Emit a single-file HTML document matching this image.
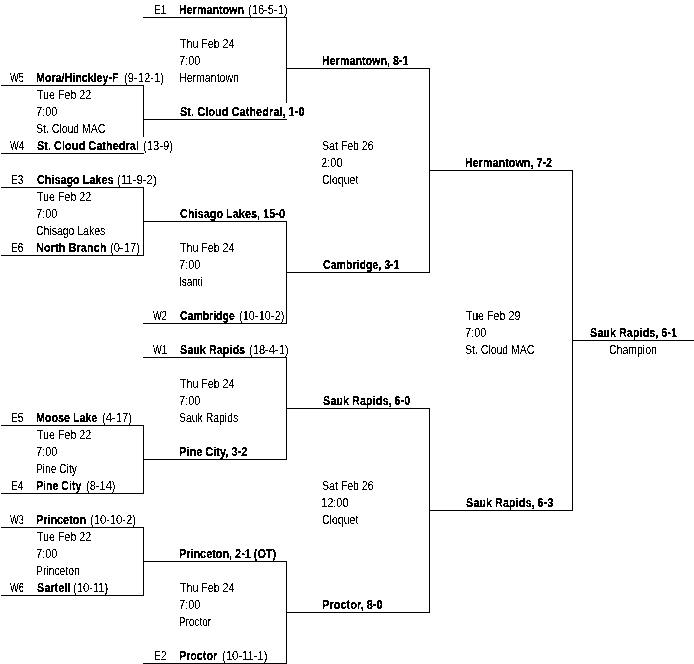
<!DOCTYPE html>
<html><head><meta charset="utf-8"><title>Bracket</title>
<style>
html,body{margin:0;padding:0;background:#fff;}
body{width:694px;height:664px;position:relative;overflow:hidden;font-family:"Liberation Sans",sans-serif;font-size:12px;line-height:16px;color:#000;}
#txt{position:absolute;left:0;top:0;width:694px;height:664px;filter:url(#th);}
#txtb{position:absolute;left:0;top:0;width:694px;height:664px;filter:url(#thb);}
.t{position:absolute;white-space:nowrap;transform-origin:0 0;display:block;height:16px;}
b{font-weight:bold;-webkit-text-stroke:0.25px #000;}
.l{position:absolute;background:#000;display:block;}
</style></head><body>
<svg width="0" height="0" style="position:absolute"><defs><filter id="th" x="0" y="0" width="100%" height="100%" color-interpolation-filters="sRGB"><feComponentTransfer><feFuncA type="discrete" tableValues="0 0 0 0 0 0 0 0 0 1 1 1 1 1 1 1 1 1 1 1"/></feComponentTransfer></filter><filter id="thb" x="0" y="0" width="100%" height="100%" color-interpolation-filters="sRGB"><feComponentTransfer><feFuncA type="discrete" tableValues="0 1"/></feComponentTransfer></filter></defs></svg>
<div id="txt">
<span class="t" style="left:10.30px;top:70px;transform:scaleX(0.7722)">W5</span>
<span class="t" style="left:124.07px;top:70px;transform:scaleX(0.9341)">(9-12-1)</span>
<span class="t" style="left:10.30px;top:138px;transform:scaleX(0.7722)">W4</span>
<span class="t" style="left:142.96px;top:138px;transform:scaleX(0.9367)">(13-9)</span>
<span class="t" style="left:11.15px;top:172px;transform:scaleX(0.8462)">E3</span>
<span class="t" style="left:117.05px;top:172px;transform:scaleX(0.9500)">(11-9-2)</span>
<span class="t" style="left:11.15px;top:240px;transform:scaleX(0.8462)">E6</span>
<span class="t" style="left:110.06px;top:240px;transform:scaleX(0.9367)">(0-17)</span>
<span class="t" style="left:11.15px;top:410px;transform:scaleX(0.8462)">E5</span>
<span class="t" style="left:102.16px;top:410px;transform:scaleX(0.9367)">(4-17)</span>
<span class="t" style="left:11.16px;top:478px;transform:scaleX(0.8429)">E4</span>
<span class="t" style="left:85.98px;top:478px;transform:scaleX(0.9200)">(8-14)</span>
<span class="t" style="left:10.30px;top:512px;transform:scaleX(0.7722)">W3</span>
<span class="t" style="left:89.87px;top:512px;transform:scaleX(0.9313)">(10-10-2)</span>
<span class="t" style="left:10.30px;top:580px;transform:scaleX(0.7722)">W6</span>
<span class="t" style="left:73.17px;top:580px;transform:scaleX(0.9306)">(10-11)</span>
<span class="t" style="left:154.15px;top:2px;transform:scaleX(0.8462)">E1</span>
<span class="t" style="left:248.07px;top:2px;transform:scaleX(0.9293)">(16-5-1)</span>
<span class="t" style="left:153.30px;top:308px;transform:scaleX(0.7722)">W2</span>
<span class="t" style="left:239.38px;top:308px;transform:scaleX(0.9229)">(10-10-2)</span>
<span class="t" style="left:153.30px;top:342px;transform:scaleX(0.7722)">W1</span>
<span class="t" style="left:249.37px;top:342px;transform:scaleX(0.9293)">(18-4-1)</span>
<span class="t" style="left:154.15px;top:648px;transform:scaleX(0.8462)">E2</span>
<span class="t" style="left:221.56px;top:648px;transform:scaleX(0.9383)">(10-11-1)</span>
<span class="t" style="left:609.02px;top:342px;transform:scaleX(0.8755)">Champion</span>
<span class="t" style="left:37.00px;top:87px;transform:scaleX(0.8885)">Tue Feb 22</span>
<span class="t" style="left:35.58px;top:104px;transform:scaleX(0.9200)">7:00</span>
<span class="t" style="left:36.13px;top:121px;transform:scaleX(0.8744)">St. Cloud MAC</span>
<span class="t" style="left:37.00px;top:189px;transform:scaleX(0.8885)">Tue Feb 22</span>
<span class="t" style="left:35.58px;top:206px;transform:scaleX(0.9200)">7:00</span>
<span class="t" style="left:36.13px;top:223px;transform:scaleX(0.8718)">Chisago Lakes</span>
<span class="t" style="left:37.00px;top:427px;transform:scaleX(0.8885)">Tue Feb 22</span>
<span class="t" style="left:35.58px;top:444px;transform:scaleX(0.9200)">7:00</span>
<span class="t" style="left:35.85px;top:461px;transform:scaleX(0.8511)">Pine City</span>
<span class="t" style="left:37.00px;top:529px;transform:scaleX(0.8885)">Tue Feb 22</span>
<span class="t" style="left:35.58px;top:546px;transform:scaleX(0.9200)">7:00</span>
<span class="t" style="left:36.14px;top:563px;transform:scaleX(0.8633)">Princeton</span>
<span class="t" style="left:180.00px;top:36px;transform:scaleX(0.8852)">Thu Feb 24</span>
<span class="t" style="left:178.58px;top:53px;transform:scaleX(0.9200)">7:00</span>
<span class="t" style="left:179.12px;top:70px;transform:scaleX(0.8818)">Hermantown</span>
<span class="t" style="left:180.00px;top:240px;transform:scaleX(0.8852)">Thu Feb 24</span>
<span class="t" style="left:178.58px;top:257px;transform:scaleX(0.9200)">7:00</span>
<span class="t" style="left:179.17px;top:274px;transform:scaleX(0.8296)">Isanti</span>
<span class="t" style="left:180.00px;top:376px;transform:scaleX(0.8852)">Thu Feb 24</span>
<span class="t" style="left:178.58px;top:393px;transform:scaleX(0.9200)">7:00</span>
<span class="t" style="left:179.13px;top:410px;transform:scaleX(0.8701)">Sauk Rapids</span>
<span class="t" style="left:180.00px;top:580px;transform:scaleX(0.8852)">Thu Feb 24</span>
<span class="t" style="left:178.58px;top:597px;transform:scaleX(0.9200)">7:00</span>
<span class="t" style="left:179.17px;top:614px;transform:scaleX(0.8263)">Proctor</span>
<span class="t" style="left:322.12px;top:138px;transform:scaleX(0.8772)">Sat Feb 26</span>
<span class="t" style="left:321.07px;top:155px;transform:scaleX(0.9250)">2:00</span>
<span class="t" style="left:322.12px;top:172px;transform:scaleX(0.8800)">Cloquet</span>
<span class="t" style="left:322.12px;top:478px;transform:scaleX(0.8772)">Sat Feb 26</span>
<span class="t" style="left:321.28px;top:495px;transform:scaleX(0.9200)">12:00</span>
<span class="t" style="left:322.12px;top:512px;transform:scaleX(0.8800)">Cloquet</span>
<span class="t" style="left:466.00px;top:308px;transform:scaleX(0.8934)">Tue Feb 29</span>
<span class="t" style="left:464.58px;top:325px;transform:scaleX(0.9200)">7:00</span>
<span class="t" style="left:465.13px;top:342px;transform:scaleX(0.8744)">St. Cloud MAC</span>
</div>
<div id="txtb">
<span class="t" style="left:36.11px;top:70px;transform:scaleX(0.8913)"><b>Mora/Hinckley-F</b></span>
<span class="t" style="left:37.00px;top:138px;transform:scaleX(0.9162)"><b>St. Cloud Cathedral</b></span>
<span class="t" style="left:37.00px;top:172px;transform:scaleX(0.9024)"><b>Chisago Lakes</b></span>
<span class="t" style="left:36.08px;top:240px;transform:scaleX(0.9213)"><b>North Branch</b></span>
<span class="t" style="left:36.11px;top:410px;transform:scaleX(0.8926)"><b>Moose Lake</b></span>
<span class="t" style="left:36.12px;top:478px;transform:scaleX(0.8843)"><b>Pine City</b></span>
<span class="t" style="left:36.10px;top:512px;transform:scaleX(0.9037)"><b>Princeton</b></span>
<span class="t" style="left:37.00px;top:580px;transform:scaleX(0.9056)"><b>Sartell</b></span>
<span class="t" style="left:179.11px;top:2px;transform:scaleX(0.8944)"><b>Hermantown</b></span>
<span class="t" style="left:180.00px;top:308px;transform:scaleX(0.8730)"><b>Cambridge</b></span>
<span class="t" style="left:180.00px;top:342px;transform:scaleX(0.9028)"><b>Sauk Rapids</b></span>
<span class="t" style="left:179.11px;top:648px;transform:scaleX(0.8929)"><b>Proctor</b></span>
<span class="t" style="left:180.00px;top:104px;transform:scaleX(0.9200)"><b>St. Cloud Cathedral, 1-0</b></span>
<span class="t" style="left:180.00px;top:206px;transform:scaleX(0.9096)"><b>Chisago Lakes, 15-0</b></span>
<span class="t" style="left:179.08px;top:444px;transform:scaleX(0.9178)"><b>Pine City, 3-2</b></span>
<span class="t" style="left:179.10px;top:546px;transform:scaleX(0.9047)"><b>Princeton, 2-1 (OT)</b></span>
<span class="t" style="left:322.11px;top:53px;transform:scaleX(0.8938)"><b>Hermantown, 8-1</b></span>
<span class="t" style="left:323.00px;top:257px;transform:scaleX(0.8816)"><b>Cambridge, 3-1</b></span>
<span class="t" style="left:323.00px;top:393px;transform:scaleX(0.9094)"><b>Sauk Rapids, 6-0</b></span>
<span class="t" style="left:322.08px;top:597px;transform:scaleX(0.9200)"><b>Proctor, 8-0</b></span>
<span class="t" style="left:465.10px;top:155px;transform:scaleX(0.9000)"><b>Hermantown, 7-2</b></span>
<span class="t" style="left:466.00px;top:495px;transform:scaleX(0.9094)"><b>Sauk Rapids, 6-3</b></span>
<span class="t" style="left:589.70px;top:325px;transform:scaleX(0.9062)"><b>Sauk Rapids, 6-1</b></span>
</div>
<div id="lines">
<i class="l" style="left:1px;top:85px;width:143px;height:1px"></i>
<i class="l" style="left:1px;top:153px;width:143px;height:1px"></i>
<i class="l" style="left:1px;top:187px;width:143px;height:1px"></i>
<i class="l" style="left:1px;top:255px;width:143px;height:1px"></i>
<i class="l" style="left:1px;top:425px;width:143px;height:1px"></i>
<i class="l" style="left:1px;top:493px;width:143px;height:1px"></i>
<i class="l" style="left:1px;top:527px;width:143px;height:1px"></i>
<i class="l" style="left:1px;top:595px;width:143px;height:1px"></i>
<i class="l" style="left:143px;top:17px;width:144px;height:1px"></i>
<i class="l" style="left:143px;top:119px;width:144px;height:1px"></i>
<i class="l" style="left:143px;top:221px;width:144px;height:1px"></i>
<i class="l" style="left:143px;top:323px;width:144px;height:1px"></i>
<i class="l" style="left:143px;top:357px;width:144px;height:1px"></i>
<i class="l" style="left:143px;top:459px;width:144px;height:1px"></i>
<i class="l" style="left:143px;top:561px;width:144px;height:1px"></i>
<i class="l" style="left:143px;top:663px;width:144px;height:1px"></i>
<i class="l" style="left:286px;top:68px;width:144px;height:1px"></i>
<i class="l" style="left:286px;top:272px;width:144px;height:1px"></i>
<i class="l" style="left:286px;top:408px;width:144px;height:1px"></i>
<i class="l" style="left:286px;top:612px;width:144px;height:1px"></i>
<i class="l" style="left:429px;top:170px;width:144px;height:1px"></i>
<i class="l" style="left:429px;top:510px;width:144px;height:1px"></i>
<i class="l" style="left:572px;top:340px;width:122px;height:1px"></i>
<i class="l" style="left:143px;top:85px;width:1px;height:52px"></i>
<i class="l" style="left:143px;top:187px;width:1px;height:69px"></i>
<i class="l" style="left:143px;top:425px;width:1px;height:69px"></i>
<i class="l" style="left:143px;top:527px;width:1px;height:69px"></i>
<i class="l" style="left:286px;top:17px;width:1px;height:86px"></i>
<i class="l" style="left:286px;top:221px;width:1px;height:103px"></i>
<i class="l" style="left:286px;top:357px;width:1px;height:103px"></i>
<i class="l" style="left:286px;top:561px;width:1px;height:103px"></i>
<i class="l" style="left:429px;top:68px;width:1px;height:205px"></i>
<i class="l" style="left:429px;top:408px;width:1px;height:205px"></i>
<i class="l" style="left:572px;top:170px;width:1px;height:341px"></i>
</div>
</body></html>
